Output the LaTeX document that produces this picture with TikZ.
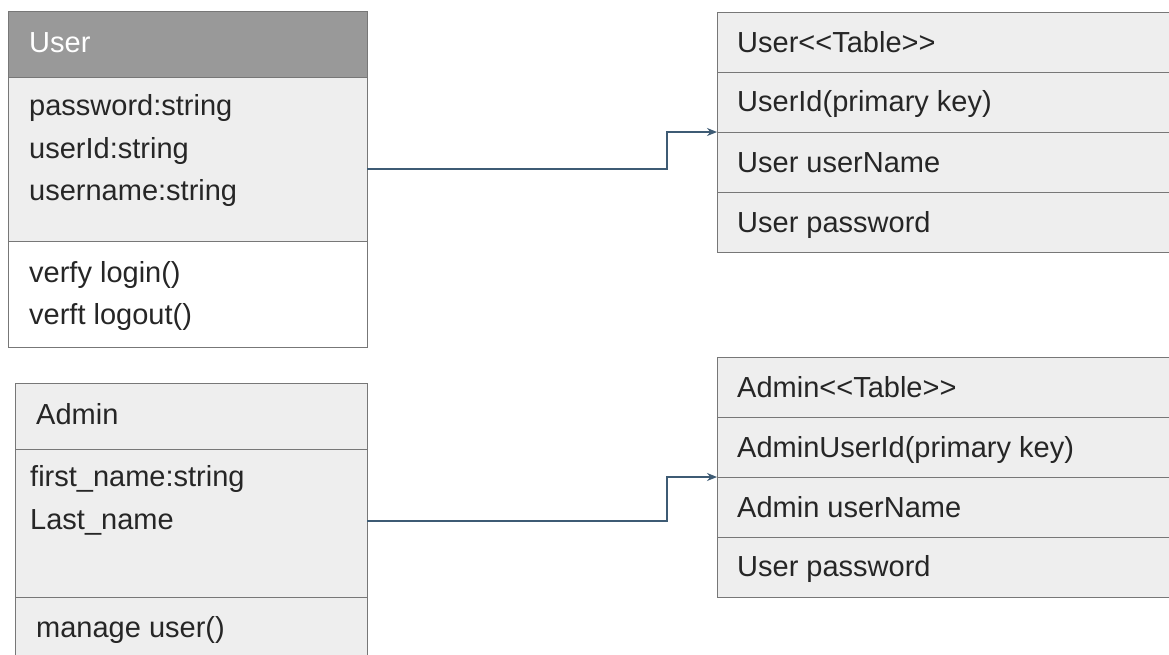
\documentclass[tikz,border=0pt]{standalone}
\usepackage{fontspec}
\setmainfont{Liberation Sans}
\usetikzlibrary{arrows.meta,calc}
\definecolor{hdr}{HTML}{999999}
\definecolor{lite}{HTML}{EEEEEE}
\definecolor{edgecol}{HTML}{777777}
\definecolor{txt}{HTML}{262626}
\definecolor{conncol}{HTML}{3E5B74}
\begin{document}
\begin{tikzpicture}[x=1pt,y=-1pt,
  comp/.style={draw=edgecol,line width=1pt,anchor=north west,inner sep=0pt,outer sep=0pt,fill=lite},
  lbl/.style={anchor=base west,inner sep=0pt,text=txt,font=\fontsize{29}{34}\selectfont},
  conn/.style={draw=conncol,line width=1.4pt,-{Stealth[length=10pt,width=8pt]}}]
\useasboundingbox (0,0) rectangle (1169,654);
\clip (0,0) rectangle (1169,654);
\fill[white] (0,0) rectangle (1169,654);

% User class
\node[comp,fill=hdr,minimum width=359pt,minimum height=66pt] (uhead) at (8,11) {};
\node[comp,minimum width=359pt,minimum height=164pt] (uattr) at (8,77) {};
\node[comp,fill=white,minimum width=359pt,minimum height=106pt] (umeth) at (8,241) {};
\node[lbl,text=white] (tuser) at (29,52) {User};
\node[lbl] (tu1) at (29,115) {password:string};
\node[lbl] (tu2) at (29,158) {userId:string};
\node[lbl] (tu3) at (29,200) {username:string};
\node[lbl] (tu4) at (29,282) {verfy login()};
\node[lbl] (tu5) at (29,324) {verft logout()};

% Admin class
\node[comp,minimum width=352pt,minimum height=66pt] (ahead) at (15,383) {};
\node[comp,minimum width=352pt,minimum height=148pt] (aattr) at (15,449) {};
\node[comp,minimum width=352pt,minimum height=90pt] (ameth) at (15,597) {};
\node[lbl] (tadmin) at (36,424) {Admin};
\node[lbl] (ta1) at (30,486) {first\_name:string};
\node[lbl] (ta2) at (30,529) {Last\_name};
\node[lbl] (ta3) at (36,637) {manage user()};

% User table
\node[comp,minimum width=480pt,minimum height=60pt] (ut1) at (717,12) {};
\node[comp,minimum width=480pt,minimum height=60pt] (ut2) at (717,72) {};
\node[comp,minimum width=480pt,minimum height=60pt] (ut3) at (717,132) {};
\node[comp,minimum width=480pt,minimum height=60pt] (ut4) at (717,192) {};
\node[lbl] (tt1) at (737,52) {User<{}<Table>{}>};
\node[lbl] (tt2) at (737,111) {UserId(primary key)};
\node[lbl] (tt3) at (737,172) {User userName};
\node[lbl] (tt4) at (737,232) {User password};

% Admin table
\node[comp,minimum width=480pt,minimum height=60pt] (at1) at (717,357) {};
\node[comp,minimum width=480pt,minimum height=60pt] (at2) at (717,417) {};
\node[comp,minimum width=480pt,minimum height=60pt] (at3) at (717,477) {};
\node[comp,minimum width=480pt,minimum height=60pt] (at4) at (717,537) {};
\node[lbl] (ts1) at (737,397) {Admin<{}<Table>{}>};
\node[lbl] (ts2) at (737,457) {AdminUserId(primary key)};
\node[lbl] (ts3) at (737,517) {Admin userName};
\node[lbl] (ts4) at (737,576) {User password};

% connectors
\coordinate (us) at (367,169);
\coordinate (as) at (367,521);
\draw[conn] (us) -- (667,169) |- (ut3.north west);
\draw[conn] (as) -- (667,521) |- (at3.north west);
\end{tikzpicture}
\end{document}
